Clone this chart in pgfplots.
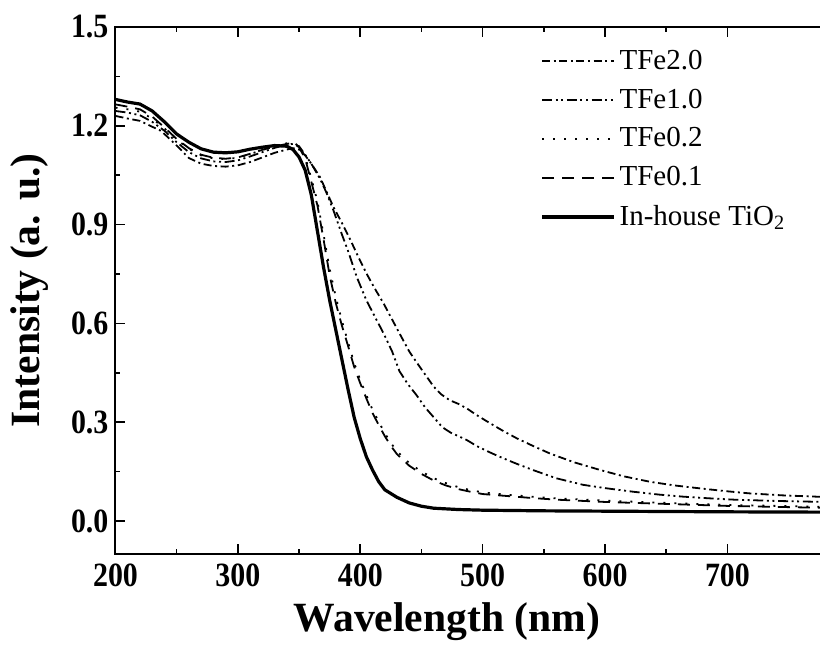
\documentclass[border=0pt]{standalone}
\usepackage{pgfplots}
\pgfplotsset{compat=1.18}
\usepackage{fontspec}
\setmainfont{Liberation Serif}
\newfontfamily\condfont[FakeStretch=0.88]{Liberation Serif}

\pgfplotstableread{
x y
200 1.230
210 1.222
220 1.215
230 1.197
236 1.187
240 1.175
250 1.140
260 1.102
270 1.085
280 1.078
290 1.076
300 1.080
310 1.090
320 1.104
330 1.118
340 1.128
345 1.132
350 1.128
355 1.110
360 1.085
367 1.045
378 0.954
385 0.905
392 0.853
398 0.805
405 0.752
412 0.705
419 0.661
426 0.612
432 0.570
440 0.515
446 0.482
453 0.445
460 0.408
466 0.385
473 0.367
480 0.356
487 0.342
495 0.322
506 0.297
517 0.273
528 0.251
540 0.230
555 0.205
575 0.178
596 0.155
615 0.136
637 0.119
657 0.108
678 0.099
698 0.091
718 0.084
745 0.078
780 0.073
}\tfetwo

\pgfplotstableread{
x y
200 1.245
210 1.240
220 1.232
230 1.212
240 1.185
250 1.150
260 1.120
270 1.101
280 1.092
290 1.090
300 1.095
310 1.107
320 1.120
330 1.133
340 1.143
345 1.145
350 1.138
355 1.112
360 1.085
367 1.040
372 1.000
378 0.944
385 0.870
390 0.820
397 0.742
405 0.670
412 0.620
419 0.570
426 0.515
432 0.455
439 0.415
446 0.382
453 0.345
460 0.315
467 0.285
474 0.268
480 0.258
487 0.246
495 0.228
505 0.210
514 0.195
527 0.175
541 0.155
560 0.130
582 0.110
600 0.100
623 0.089
645 0.080
664 0.074
685 0.069
705 0.065
740 0.061
780 0.058
}\tfeone

\pgfplotstableread{
x y
200 1.255
210 1.250
220 1.243
230 1.222
240 1.192
250 1.158
260 1.130
270 1.110
280 1.101
290 1.099
300 1.103
310 1.114
320 1.127
330 1.138
340 1.147
345 1.150
350 1.138
355 1.105
360 1.040
365 0.970
370 0.870
375 0.765
380 0.680
385 0.608
390 0.543
395 0.480
400 0.428
405 0.382
410 0.338
415 0.302
420 0.267
425 0.237
430 0.212
440 0.176
450 0.150
460 0.130
470 0.115
480 0.103
490 0.094
500 0.087
520 0.080
540 0.074
560 0.069
600 0.062
650 0.055
700 0.049
780 0.043
}\tfeptwo

\pgfplotstableread{
x y
200 1.265
210 1.258
220 1.250
230 1.228
240 1.195
250 1.160
260 1.132
270 1.112
280 1.103
290 1.100
300 1.104
310 1.115
320 1.127
330 1.137
340 1.145
345 1.148
350 1.135
355 1.100
360 1.030
365 0.958
370 0.855
375 0.745
380 0.662
385 0.593
390 0.532
395 0.468
400 0.418
405 0.372
410 0.328
415 0.292
420 0.258
425 0.228
430 0.203
440 0.168
450 0.143
460 0.123
470 0.108
480 0.097
490 0.089
500 0.082
520 0.076
540 0.070
560 0.065
600 0.058
650 0.052
700 0.046
780 0.040
}\tfepone

\pgfplotstableread{
x y
200 1.280
210 1.272
220 1.266
230 1.245
240 1.212
250 1.175
260 1.150
270 1.130
280 1.120
290 1.118
300 1.121
310 1.129
320 1.135
330 1.140
340 1.138
345 1.128
350 1.105
355 1.065
360 0.990
365 0.880
370 0.770
375 0.670
380 0.580
385 0.490
390 0.400
395 0.315
400 0.250
405 0.195
410 0.155
415 0.120
420 0.095
430 0.072
440 0.055
450 0.045
460 0.039
480 0.035
500 0.033
550 0.031
600 0.030
650 0.029
700 0.028
780 0.027
}\tio

\begin{document}
\begin{tikzpicture}
\begin{axis}[
  name=ax, at={(0,0)}, anchor=south west,
  scale only axis, width=354.94pt, height=263.5pt,
  xmin=200, xmax=780, ymin=-0.1, ymax=1.5,
  xtick={200,300,400,500,600,700}, minor x tick num=1,
  ytick={0,0.3,0.6,0.9,1.2,1.5}, minor y tick num=1,
  ytick pos=left, xtick pos=both,
  tick align=inside, major tick length=5pt, minor tick length=2.5pt,
  axis line style={line width=1pt},
  major tick style={line width=0.8pt, black},
  minor tick style={line width=0.8pt, black},
  /pgf/number format/assume math mode=true,
  yticklabel style={/pgf/number format/.cd, fixed, fixed zerofill, precision=1},
  xticklabel style={yshift=-1.5pt, /pgf/number format/.cd, fixed, precision=0},
  tick label style={font=\condfont\fontsize{17}{19}\selectfont\bfseries},
  label style={font=\fontsize{20.8}{23}\selectfont\bfseries},
  xlabel={Wavelength (nm)},
  ylabel={Intensity (a. u.)},
  xlabel style={at={(axis description cs:0.467,-0.128)}, anchor=center},
  ylabel style={at={(axis description cs:-0.1204,0.5)}, anchor=center},
  legend style={draw=none, fill=none, at={(rel axis cs:0.598,0.965)}, anchor=north west,
    font=\fontsize{14.5}{16}\selectfont, row sep=4.3pt, inner sep=0pt, cells={anchor=west}},
  legend image code/.code={\draw[#1] (0pt,0pt) -- (36pt,0pt);},
]
\addplot[black, line width=0.9pt, dash pattern=on 4pt off 1.8pt on 1pt off 1.8pt] table {\tfetwo};
\addlegendentry{TFe2.0}
\addplot[black, line width=0.9pt, dash pattern=on 5pt off 1.8pt on 1pt off 1.8pt on 1pt off 1.8pt] table {\tfeone};
\addlegendentry{TFe1.0}
\addplot[black, line width=0.9pt, dash pattern=on 1pt off 4.5pt] table {\tfeptwo};
\addlegendentry{TFe0.2}
\addplot[black, line width=0.9pt, dash pattern=on 6pt off 4pt] table {\tfepone};
\addlegendentry{TFe0.1}
\addplot[black, line width=1.6pt] table {\tio};
\addlegendentry{In-house TiO\textsubscript{2}}
\end{axis}
\pgfresetboundingbox
\path[use as bounding box] (-57.75pt,-48.5pt) rectangle (352.25pt,277pt);
\end{tikzpicture}
\end{document}
